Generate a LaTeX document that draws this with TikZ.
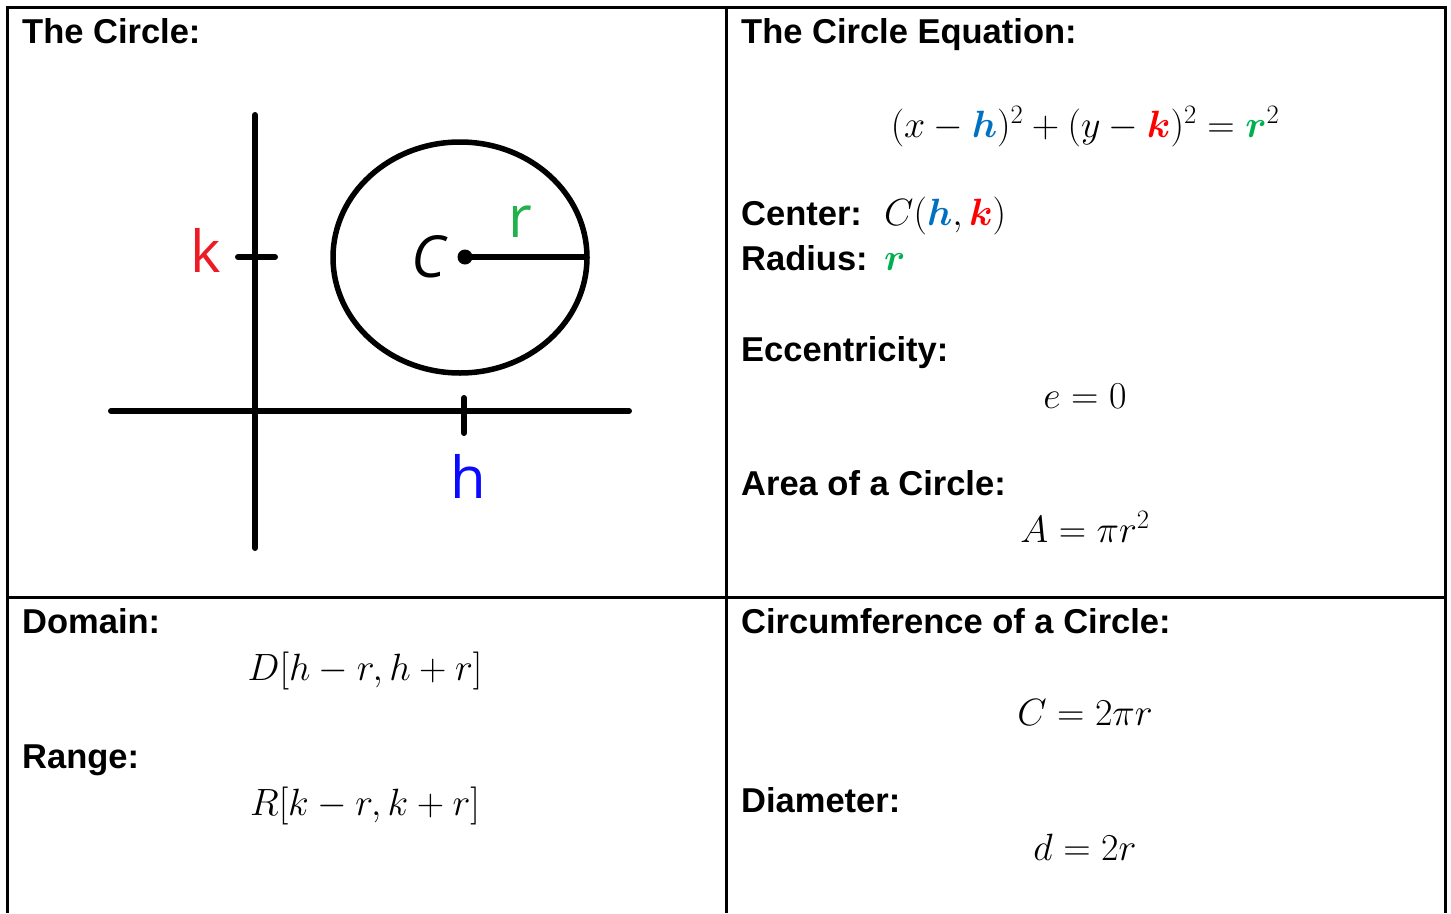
\documentclass[tikz,border=0pt]{standalone}
\usepackage{fix-cm}
\usepackage{amsmath,bm}
\usepackage{fontspec}
\setmainfont{Liberation Sans}
\newfontfamily\handfont{Open Sans}
\definecolor{hblue}{RGB}{0,112,192}
\definecolor{kred}{RGB}{255,0,0}
\definecolor{rgreen}{RGB}{0,176,80}
\definecolor{dh}{RGB}{10,10,255}
\definecolor{dk}{RGB}{237,28,36}
\definecolor{dr}{RGB}{34,177,76}
\newcommand{\hb}{\textcolor{hblue}{\bm{h}}}
\newcommand{\kb}{\textcolor{kred}{\bm{k}}}
\newcommand{\rb}{\textcolor{rgreen}{\bm{r}}}
\begin{document}
\begin{tikzpicture}[x=1pt,y=-1pt,
  head/.style={anchor=base west, inner sep=0, font=\fontsize{34.5}{40}\selectfont\bfseries},
  eq/.style={anchor=base, inner sep=0, font=\fontsize{38}{44}\selectfont},
  eqw/.style={anchor=base west, inner sep=0, font=\fontsize{38}{44}\selectfont},
  rule/.style={line width=3pt},
  axis/.style={line width=6pt, line cap=round},
  hand/.style={anchor=base, inner sep=0, font=\fontsize{58}{64}\selectfont\handfont}]
\useasboundingbox (0,0) rectangle (1451,913);
% table
\draw[rule] (7,913) -- (7,7) -- (1445,7) -- (1445,913);
\draw[rule] (726,7) -- (726,913);
\draw[rule] (7,597) -- (1445,597);
% drawing
\draw[axis] (255,115) -- (255,548);
\draw[axis] (111,411) -- (629,411);
\draw[axis] (238,257) -- (275,257);
\draw[axis] (464,398) -- (464,433);
\draw[line width=5.5pt] (460,257.5) ellipse [x radius=127, y radius=115.5];
\coordinate (ctr) at (465,257);
\coordinate (rim) at (585,257);
\fill (ctr) circle (7.5);
\draw[axis, line cap=butt] (ctr) -- (rim);
\node[hand, text=dk] (klab) at (206,272) {k};
\node[hand] (clab) at (430,277) {\textit{C}};
\node[hand, text=dr] (rlab) at (520,237) {r};
\node[hand, text=dh] (hlab) at (468,498) {h};
% texts
\node[head] (t1) at (22,43) {The Circle:};
\node[head] (t2) at (741,43) {The Circle Equation:};
\node[eq] (e1) at (1085,137) {$(x-\hb)^2+(y-\kb)^2=\rb^2$};
\node[head] (t3) at (741,225) {Center:};
\node[eqw] (e2) at (884,225) {$C(\hb,\kb)$};
\node[head] (t4) at (741,270) {Radius:};
\node[eqw] (e3) at (884,270) {$\rb$};
\node[head] (t5) at (741,361) {Eccentricity:};
\node[eq] (e4) at (1085,408) {$e=0$};
\node[head] (t6) at (741,495) {Area of a Circle:};
\node[eq] (e5) at (1085,542) {$A=\pi r^2$};
\node[head] (t7) at (22,633) {Domain:};
\node[eq] (e6) at (365,680) {$D[h-r,h+r]$};
\node[head] (t8) at (22,768) {Range:};
\node[eq] (e7) at (365,815) {$R[k-r,k+r]$};
\node[head] (t9) at (741,633) {Circumference of a Circle:};
\node[eq] (e8) at (1085,725) {$C=2\pi r$};
\node[head] (t10) at (741,812) {Diameter:};
\node[eq] (e9) at (1085,860) {$d=2r$};
\end{tikzpicture}
\end{document}
